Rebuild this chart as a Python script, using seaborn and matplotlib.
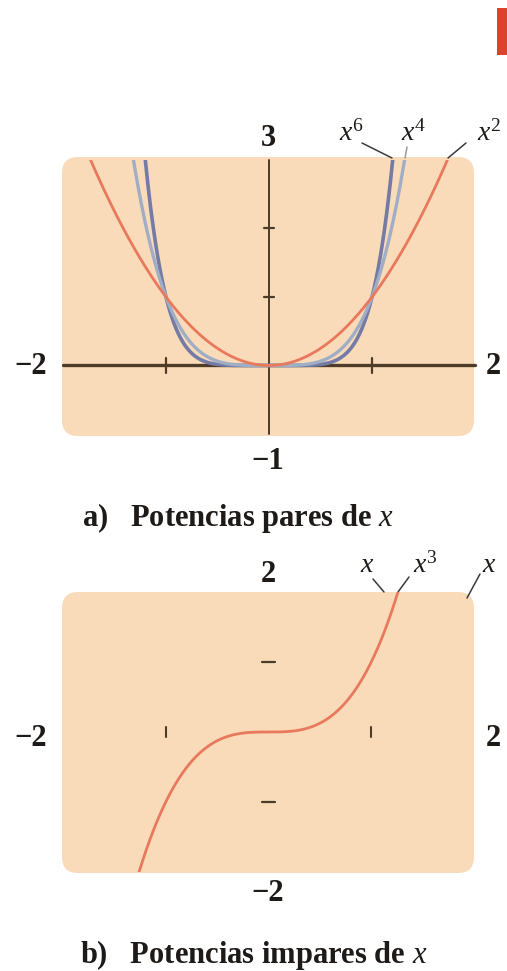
import numpy as np
import pandas as pd
import matplotlib
matplotlib.use("Agg")
import matplotlib.pyplot as plt
import seaborn as sns
from matplotlib.patches import FancyBboxPatch, Rectangle

sns.set_style("white")
plt.rcParams["font.family"] = ["Liberation Serif", "DejaVu Serif"]
plt.rcParams["mathtext.fontset"] = "custom"
plt.rcParams["mathtext.rm"] = "Liberation Serif"
plt.rcParams["mathtext.it"] = "Liberation Serif:italic"
plt.rcParams["mathtext.bf"] = "Liberation Serif:bold"

# ---- data ----
even_powers = [2, 4, 6]
odd_powers_drawn = [3]
curve_labels_even = ["$x^6$", "$x^4$", "$x^2$"]
curve_labels_odd = ["$x$", "$x^3$", "$x$"]
x_range = [-2, 2]
y_range_even = [-1, 3]
y_range_odd = [-2, 2]
x_ticks = [-1, 1]
y_ticks_even = [1, 2]
y_ticks_odd = [-1, 1]
panel_titles = ["a)   Potencias pares de $x$", "b)   Potencias impares de $x$"]

xs = np.linspace(-2, 2, 801)
even_df = pd.DataFrame(
    [(x, x ** n, f"x{n}") for n in even_powers for x in xs],
    columns=["x", "y", "pot"],
)
odd_df = pd.DataFrame(
    [(x, x ** n, f"x{n}") for n in odd_powers_drawn for x in xs],
    columns=["x", "y", "pot"],
)

W, H = 507, 971
fig = plt.figure(figsize=(W / 100, H / 100), dpi=100)
fig.patch.set_facecolor("white")

PEACH = "#F9DBB9"
AXIS = "#4E3B28"
LABEL = "#1E1A18"


def px_axes(left, top, right, bottom):
    ax = fig.add_axes([left / W, 1 - bottom / H, (right - left) / W, (bottom - top) / H])
    ax.set_zorder(2)
    return ax


def rounded_panel(left, top, right, bottom):
    r = 0.16
    box = FancyBboxPatch(
        (left / 100 + r, (H - bottom) / 100 + r),
        (right - left) / 100 - 2 * r,
        (bottom - top) / 100 - 2 * r,
        boxstyle=f"round,pad={r}",
        transform=fig.dpi_scale_trans,
        facecolor=PEACH, edgecolor="none", zorder=-1,
    )
    fig.patches.append(box)


def ftext(x, y, s, **kw):
    fig.text(x / W, 1 - y / H, s, ha="center", va="center", color=LABEL, **kw)


def leader(x0, y0, x1, y1, color="#3A3A3A", lw=1.1):
    fig.add_artist(plt.Line2D([x0 / W, x1 / W], [1 - y0 / H, 1 - y1 / H],
                              color=color, lw=lw, transform=fig.transFigure))


NUM = dict(fontsize=22, fontweight="bold")
CURVE = dict(fontsize=20)
TITLE = dict(fontsize=22, fontweight="bold", color=LABEL, ha="left", va="center")

# ---------------- panel a) ----------------
rounded_panel(62, 157, 474, 436)
ax1 = px_axes(63, 160, 475, 434)
ax1.set_xlim(*x_range)
ax1.set_ylim(*y_range_even)
ax1.patch.set_alpha(0)
for s in ax1.spines.values():
    s.set_visible(False)
ax1.set_xticks([])
ax1.set_yticks([])

palette = {"x2": "#E8795C", "x4": "#9FAEC4", "x6": "#737BA6"}
widths = {"x2": 2.0, "x4": 2.4, "x6": 2.6}
for key in ["x6", "x4", "x2"]:
    sns.lineplot(data=even_df[even_df["pot"] == key], x="x", y="y",
                 color=palette[key], lw=widths[key], ax=ax1, legend=False,
                 sort=False, zorder=3 if key == "x2" else 2)
ax1.set_xlabel("")
ax1.set_ylabel("")

ax1.plot(x_range, [0, 0], color=AXIS, lw=2.4, zorder=1, clip_on=False)
ax1.plot([0, 0], [y_range_even[0], y_range_even[1]], color=AXIS, lw=1.4, zorder=1, clip_on=False)
for t in x_ticks:
    ax1.plot([t, t], [-0.11, 0.11], color=AXIS, lw=1.6, zorder=1)
for t in y_ticks_even:
    ax1.plot([-0.05, 0.05], [t, t], color=AXIS, lw=1.6, zorder=1)

ftext(268, 139, "3", **NUM)
ftext(31, 367, "−2", **NUM)
ftext(493, 367, "2", **NUM)
ftext(268, 461, "−1", **NUM)

ftext(351, 133, curve_labels_even[0], **CURVE)
ftext(414, 133, curve_labels_even[1], **CURVE)
ftext(489, 133, curve_labels_even[2], **CURVE)
leader(362, 143, 392, 158)
leader(407, 147, 405, 158, color="#9A9A9A")
leader(466, 143, 448, 158)

fig.text(82 / W, 1 - 518 / H, panel_titles[0], **TITLE)

# ---------------- panel b) ----------------
rounded_panel(62, 592, 474, 873)
ax2 = px_axes(63, 592, 474, 872)
ax2.set_xlim(*x_range)
ax2.set_ylim(*y_range_odd)
ax2.patch.set_alpha(0)
for s in ax2.spines.values():
    s.set_visible(False)
ax2.set_xticks([])
ax2.set_yticks([])

sns.lineplot(data=odd_df, x="x", y="y", color="#E8795C", lw=2.0, ax=ax2,
             legend=False, sort=False)
ax2.set_xlabel("")
ax2.set_ylabel("")

for t in x_ticks:
    ax2.plot([t, t], [-0.07, 0.07], color=AXIS, lw=1.5)
for t in y_ticks_odd:
    ax2.plot([-0.06, 0.06], [t, t], color=AXIS, lw=1.6)

ftext(268, 574, "2", **NUM)
ftext(31, 738, "−2", **NUM)
ftext(493, 738, "2", **NUM)
ftext(268, 893, "−2", **NUM)

ftext(367, 565, curve_labels_odd[0], **CURVE)
ftext(425, 565, curve_labels_odd[1], **CURVE)
ftext(489, 565, curve_labels_odd[2], **CURVE)
leader(373, 579, 384, 592)
leader(409, 577, 398, 592)
leader(480, 574, 467, 598)

fig.text(80 / W, 1 - 955 / H, panel_titles[1], **TITLE)

# small red page marker in the top-right corner
fig.patches.append(Rectangle((497 / W, 1 - 55 / H), 10 / W, 47 / H,
                             transform=fig.transFigure, facecolor="#D9452A",
                             edgecolor="none"))

fig.savefig("out.png", dpi=100)
